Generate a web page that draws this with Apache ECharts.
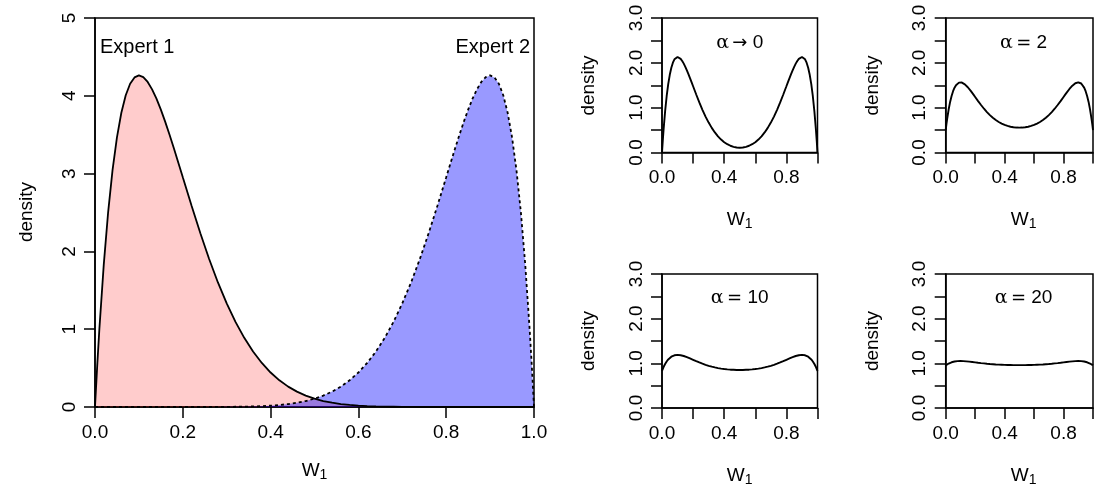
<!DOCTYPE html>
<html>
<head>
<meta charset="utf-8">
<script src="https://cdn.jsdelivr.net/npm/echarts@6.0.0/dist/echarts.min.js"></script>
<style>
html,body{margin:0;padding:0;background:#fff;}
#chart{width:1096px;height:498px;}
</style>
</head>
<body>
<div id="chart"></div>
<script>
// x grid (W1 values)
const xs = [0,0.005,0.01,0.02,0.03,0.04,0.05,0.06,0.07,0.08,0.09,0.10,0.11,0.12,0.13,0.14,0.15,0.16,0.17,0.18,0.19,0.20,
0.22,0.24,0.26,0.28,0.30,0.32,0.34,0.36,0.38,0.40,0.42,0.44,0.46,0.48,0.50,0.52,0.54,0.56,0.58,0.60,0.62,0.64,0.66,0.68,0.70,0.72,0.74,0.76,0.78,
0.80,0.81,0.82,0.83,0.84,0.85,0.86,0.87,0.88,0.89,0.90,0.91,0.92,0.93,0.94,0.95,0.96,0.97,0.98,0.99,0.995,1.0];

// density of Expert 1
const expert1 = [0,0.526,1.005,1.834,2.509,3.047,3.466,3.782,4.007,4.155,4.236,4.262,4.239,4.178,4.083,3.963,3.822,3.665,3.496,3.319,3.137,2.953,
2.587,2.233,1.903,1.601,1.332,1.094,0.889,0.713,0.566,0.443,0.343,0.262,0.198,0.147,0.107,0.077,0.055,0.038,0.026,0.017,0.011,0.007,0.004,0.003,0.002,0.001,0,0,0,
0,0,0,0,0,0,0,0,0,0,0,0,0,0,0,0,0,0,0,0,0,0];

// density of Expert 2
const expert2 = [0,0,0,0,0,0,0,0,0,0,0,0,0,0,0,0,0,0,0,0,0,0,
0,0,0,0.001,0.002,0.003,0.004,0.007,0.011,0.017,0.026,0.038,0.055,0.077,0.107,0.147,0.198,0.262,0.343,0.443,0.566,0.713,0.889,1.094,1.332,1.601,1.903,2.233,2.587,
2.953,3.137,3.319,3.496,3.665,3.822,3.963,4.083,4.178,4.239,4.262,4.236,4.155,4.007,3.782,3.466,3.047,2.509,1.834,1.005,0.526,0];

// pooled densities
const alphaZero = [0,0.263,0.503,0.917,1.255,1.524,1.733,1.891,2.004,2.078,2.118,2.131,2.120,2.089,2.042,1.982,1.911,1.833,1.748,1.660,1.569,1.477,
1.294,1.117,0.952,0.801,0.667,0.549,0.447,0.360,0.289,0.230,0.185,0.150,0.127,0.112,0.107,0.112,0.127,0.150,0.185,0.230,0.289,0.360,0.447,0.549,0.667,0.801,0.952,1.117,1.294,
1.477,1.569,1.660,1.748,1.833,1.911,1.982,2.042,2.089,2.120,2.131,2.118,2.078,2.004,1.891,1.733,1.524,1.255,0.917,0.503,0.263,0];

const alphaTwo = [0.500,0.632,0.752,0.959,1.128,1.262,1.367,1.446,1.502,1.539,1.559,1.566,1.560,1.545,1.521,1.491,1.456,1.417,1.374,1.330,1.285,1.239,
1.147,1.059,0.976,0.901,0.834,0.775,0.724,0.680,0.645,0.615,0.593,0.575,0.564,0.556,0.554,0.556,0.564,0.575,0.593,0.615,0.645,0.680,0.724,0.775,0.834,0.901,0.976,1.059,1.147,
1.239,1.285,1.330,1.374,1.417,1.456,1.491,1.521,1.545,1.560,1.566,1.559,1.539,1.502,1.446,1.367,1.262,1.128,0.959,0.752,0.632,0.500];

const alphaTen = [0.833,0.877,0.917,0.986,1.042,1.087,1.122,1.148,1.167,1.180,1.186,1.189,1.187,1.181,1.174,1.164,1.152,1.139,1.125,1.110,1.095,1.080,
1.049,1.020,0.992,0.967,0.945,0.925,0.908,0.893,0.882,0.872,0.864,0.858,0.855,0.852,0.851,0.852,0.855,0.858,0.864,0.872,0.882,0.893,0.908,0.925,0.945,0.967,0.992,1.020,1.049,
1.080,1.095,1.110,1.125,1.139,1.152,1.164,1.174,1.181,1.187,1.189,1.186,1.180,1.167,1.148,1.122,1.087,1.042,0.986,0.917,0.877,0.833];

const alphaTwenty = [0.955,0.967,0.978,0.996,1.012,1.024,1.033,1.040,1.045,1.049,1.050,1.051,1.050,1.049,1.047,1.044,1.041,1.038,1.034,1.030,1.026,1.022,
1.013,1.005,0.998,0.991,0.985,0.980,0.975,0.971,0.968,0.965,0.963,0.962,0.961,0.960,0.960,0.960,0.961,0.962,0.963,0.965,0.968,0.971,0.975,0.980,0.985,0.991,0.998,1.005,1.013,
1.022,1.026,1.030,1.034,1.038,1.041,1.044,1.047,1.049,1.050,1.051,1.050,1.049,1.045,1.040,1.033,1.024,1.012,0.996,0.978,0.967,0.955];

const panelLabels = ['α → 0', 'α = 2', 'α = 10', 'α = 20'];
const expertLabels = ['Expert 1', 'Expert 2'];

const FONT = '"Liberation Sans", Arial, Helvetica, sans-serif';
const FS = 19;
const mk = arr => xs.map((x, i) => [x, arr[i]]);

const chart = echarts.init(document.getElementById('chart'), null, {renderer: 'canvas'});

const gridBase = {show: true, borderColor: '#000', borderWidth: 1.5, backgroundColor: 'transparent', containLabel: false};
const grids = [
  Object.assign({left: 95, top: 18, width: 439, height: 389}, gridBase),
  Object.assign({left: 662, top: 18, width: 155.5, height: 134.5}, gridBase),
  Object.assign({left: 945.7, top: 18, width: 155.8, height: 134.5}, gridBase),
  Object.assign({left: 662, top: 274, width: 155.5, height: 134}, gridBase),
  Object.assign({left: 945.7, top: 274, width: 155.8, height: 134}, gridBase)
];

function axisCommon() {
  return {
    axisLine: {show: true, onZero: false, lineStyle: {color: '#000', width: 1.5}},
    axisTick: {show: true, inside: false, length: 11, lineStyle: {color: '#000', width: 1.5}},
    splitLine: {show: false},
  };
}

const xAxes = [], yAxes = [];
// main panel
xAxes.push(Object.assign(axisCommon(), {
  type: 'value', gridIndex: 0, min: 0, max: 1, interval: 0.2,
  axisLabel: {color: '#000', fontFamily: FONT, fontSize: FS, margin: 16, formatter: v => v.toFixed(1)}
}));
yAxes.push(Object.assign(axisCommon(), {
  type: 'value', gridIndex: 0, min: 0, max: 5, interval: 1,
  axisLabel: {color: '#000', fontFamily: FONT, fontSize: FS, margin: 16, rotate: 90, formatter: v => String(Math.round(v))}
}));
for (let g = 1; g <= 4; g++) {
  xAxes.push(Object.assign(axisCommon(), {
    type: 'value', gridIndex: g, min: 0, max: 1, interval: 0.2,
    axisLabel: {color: '#000', fontFamily: FONT, fontSize: FS, margin: 16,
      formatter: v => { const r = Math.round(v * 10) / 10; return (r === 0 || r === 0.4 || r === 0.8) ? r.toFixed(1) : ''; }}
  }));
  yAxes.push(Object.assign(axisCommon(), {
    type: 'value', gridIndex: g, min: 0, max: 3, interval: 0.5,
    axisLabel: {color: '#000', fontFamily: FONT, fontSize: FS, margin: 16, rotate: 90,
      formatter: v => (Math.abs(v - Math.round(v)) < 1e-9 ? v.toFixed(1) : '')}
  }));
}

const series = [
  {type: 'line', xAxisIndex: 0, yAxisIndex: 0, data: mk(expert1), showSymbol: false, symbol: 'none',
   lineStyle: {width: 0}, areaStyle: {color: 'rgba(255,0,0,0.2)', opacity: 1}, z: 1},
  {type: 'line', xAxisIndex: 0, yAxisIndex: 0, data: mk(expert2), showSymbol: false, symbol: 'none',
   lineStyle: {width: 0}, areaStyle: {color: 'rgba(0,0,255,0.4)', opacity: 1}, z: 2},
  {type: 'line', xAxisIndex: 0, yAxisIndex: 0, data: mk(expert1), showSymbol: false, symbol: 'none',
   lineStyle: {color: '#000', width: 1.8}, z: 3},
  {type: 'line', xAxisIndex: 0, yAxisIndex: 0, data: mk(expert2), showSymbol: false, symbol: 'none',
   lineStyle: {color: '#000', width: 1.8, type: [3, 3]}, z: 3},
];
[alphaZero, alphaTwo, alphaTen, alphaTwenty].forEach((arr, k) => {
  series.push({type: 'line', xAxisIndex: k + 1, yAxisIndex: k + 1, data: mk(arr), showSymbol: false, symbol: 'none',
    lineStyle: {color: '#000', width: 1.9}, z: 3});
});

function txt(x, y, text, size, opts) {
  return Object.assign({type: 'text', x: x, y: y, silent: true, z: 10,
    style: Object.assign({text: text, fill: '#000', font: size + 'px ' + FONT, align: 'center', verticalAlign: 'middle'}, (opts && opts.style) || {})},
    (opts && opts.el) || {});
}
function wLabel(x, y) {
  return {type: 'text', x: x, y: y, silent: true, z: 10,
    style: {text: '{w|W}{s|1}', fill: '#000', align: 'center', verticalAlign: 'middle',
      rich: {w: {fontFamily: FONT, fontSize: FS, fill: '#000', lineHeight: 22},
             s: {fontFamily: FONT, fontSize: 14, fill: '#000', lineHeight: 22, padding: [9, 0, 0, 0]}}}};
}
function alphaLabel(x, y, text) {
  const op = text.slice(2, 3);
  const num = text.slice(3);
  return {type: 'text', x: x, y: y, silent: true, z: 10,
    style: {text: '{g|α} {o|' + op + '}{t|' + num + '}', fill: '#000', align: 'center', verticalAlign: 'middle',
      rich: {g: {fontFamily: '"DejaVu Serif", "Liberation Serif", serif', fontSize: 19, fill: '#000'},
             o: {fontFamily: '"DejaVu Sans", sans-serif', fontSize: 18, fill: '#000'},
             t: {fontFamily: FONT, fontSize: 19, fill: '#000'}}}};
}
const rot = {el: {rotation: Math.PI / 2}};

const graphics = [
  txt(100, 47, expertLabels[0], 20, {style: {align: 'left'}}),
  txt(530, 47, expertLabels[1], 20, {style: {align: 'right'}}),
  txt(27, 212, 'density', FS, rot),
  wLabel(314.5, 471),
  txt(589, 85.5, 'density', FS, rot),
  txt(873, 85.5, 'density', FS, rot),
  txt(589, 341, 'density', FS, rot),
  txt(873, 341, 'density', FS, rot),
  wLabel(739.7, 220),
  wLabel(1023.6, 220),
  wLabel(739.7, 476),
  wLabel(1023.6, 476),
  alphaLabel(739.7, 43, panelLabels[0]),
  alphaLabel(1023.6, 43, panelLabels[1]),
  alphaLabel(739.7, 298, panelLabels[2]),
  alphaLabel(1023.6, 298, panelLabels[3]),
];

chart.setOption({
  animation: false,
  backgroundColor: '#fff',
  grid: grids,
  xAxis: xAxes,
  yAxis: yAxes,
  series: series,
  graphic: graphics
});
</script>
</body>
</html>
